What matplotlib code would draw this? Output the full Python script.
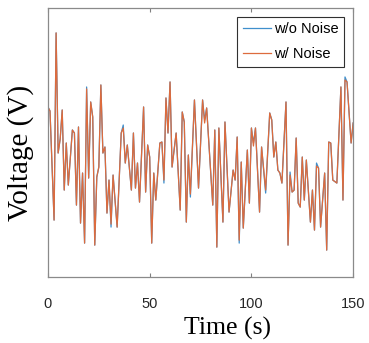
import numpy as np
import matplotlib
matplotlib.use("Agg")
import matplotlib.pyplot as plt

# время (с) и напряжение (В)
t = [0, 1, 3, 4, 5, 6, 7, 8, 9, 10, 12, 13, 14, 15, 16, 17, 18, 19, 20, 21,
     22, 23, 24, 25, 26, 27, 28, 29, 30, 31, 32, 34, 36, 37, 38, 39, 41, 42, 43, 44,
     45, 47, 48, 49, 50, 51, 52, 53, 55, 56, 57, 58, 59, 60, 61, 63, 65, 66, 67, 68,
     69, 70, 72, 74, 76, 77, 78, 81, 82, 83, 84, 86, 87, 89, 91, 92, 93, 94, 95, 96,
     98, 99, 100, 101, 102, 104, 105, 107, 109, 110, 111, 112, 113, 114, 115, 117, 118, 119, 120, 121,
     122, 123, 124, 125, 126, 127, 129, 130, 131, 132, 133, 134, 136, 137, 138, 139, 140, 142, 144, 145,
     146, 147, 149, 150]

v_clean = [1.70, 1.66, 0.57, 2.44, 1.24, 1.38, 1.67, 0.87, 1.34, 0.92, 1.47, 1.44, 0.72, 1.50, 0.54, 1.04, 0.34, 1.90, 0.99, 1.75,
           1.60, 0.32, 1.00, 1.10, 1.92, 1.24, 1.30, 0.64, 0.97, 0.50, 1.02, 0.50, 1.44, 1.52, 1.14, 1.32, 0.87, 1.44, 0.89, 1.14,
           0.75, 1.70, 0.85, 1.32, 1.20, 0.34, 1.04, 0.77, 1.34, 1.35, 0.94, 1.79, 1.44, 1.95, 1.10, 1.44, 0.67, 1.65, 1.55, 0.55,
           1.22, 0.80, 1.77, 0.89, 1.77, 1.57, 1.69, 0.72, 1.47, 0.30, 1.49, 0.55, 1.55, 0.65, 1.07, 0.97, 1.40, 0.34, 1.15, 0.49,
           1.27, 0.74, 1.49, 1.34, 1.49, 0.65, 1.30, 0.84, 1.64, 1.57, 1.20, 1.35, 1.07, 1.04, 0.94, 1.75, 0.32, 1.05, 0.85, 0.87,
           1.39, 0.74, 0.70, 1.20, 0.77, 1.17, 0.55, 0.87, 0.47, 1.14, 1.09, 0.50, 1.04, 0.27, 1.35, 1.34, 0.97, 0.94, 1.90, 0.77,
           2.00, 1.95, 1.34, 1.54]

# где шумовой сигнал заметно отличается (время, отклонение)
noise_t = [19, 31, 37, 57, 70, 77, 94, 101, 107, 119, 132, 146]
noise_dv = [-0.02, 0.03, -0.03, 0.03, 0.03, -0.03, 0.03, -0.03, 0.03, -0.03, -0.03, -0.03]

t = np.array(t)
v_clean = np.array(v_clean)
v_noise = v_clean.copy()
for tt, dv in zip(noise_t, noise_dv):
    v_noise[t == tt] += dv

fig = plt.figure(figsize=(3.69, 3.43), dpi=100)
ax = fig.add_axes([0.130, 0.192, 0.827, 0.785])

ax.plot(t, v_clean, color="#3f8fcc", lw=0.9, label="w/o Noise")
ax.plot(t, v_noise, color="#dd6b3d", lw=0.9, label="w/ Noise")

ax.set_xlim(0, 150)
ax.set_ylim(0, 2.69)
ax.set_xticks([0, 50, 100, 150])
ax.set_yticks([])
ax.tick_params(axis="x", direction="in", length=3, pad=14, top=True,
               labelsize=10.5, colors="#808080", labelcolor="#262626")
for lab in ax.get_xticklabels():
    lab.set_fontfamily("Liberation Sans")
for sp in ax.spines.values():
    sp.set_color("#8a8a8a")
    sp.set_linewidth(0.9)

ax.set_xlabel("Time (s)", family="Liberation Serif", fontsize=18.5)
ax.set_ylabel("Voltage (V)", family="Liberation Serif", fontsize=21)
# подписи в оригинале чуть сдвинуты
ax.xaxis.set_label_coords(0.589, -0.148)
ax.yaxis.set_label_coords(-0.045, 0.46)

leg = ax.legend(loc="upper right", prop={"family": "Liberation Sans", "size": 10.5},
                fancybox=False, framealpha=1, edgecolor="#303030",
                handlelength=1.9, handletextpad=0.2, labelspacing=0.75,
                borderpad=0.4, borderaxespad=0.6)
leg.get_frame().set_linewidth(0.8)

fig.savefig("out.png", dpi=100)
